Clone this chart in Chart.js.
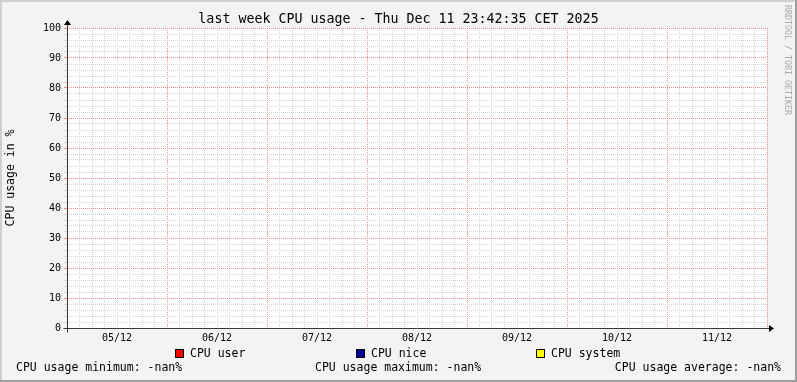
<!DOCTYPE html>
<html>
<head>
<meta charset="utf-8">
<title>last week CPU usage</title>
<script src="https://cdn.jsdelivr.net/npm/chart.js@4.4.1/dist/chart.umd.min.js"></script>
<style>
  html, body { margin: 0; padding: 0; background: #f3f3f3; }
  canvas { display: block; }
</style>
</head>
<body>
<canvas id="chart" width="797" height="382"></canvas>
<script>
// === Datos ===
const dayLabels = ['05/12', '06/12', '07/12', '08/12', '09/12', '10/12', '11/12'];
const hoursInRange = 168;          // una semana, eje x en horas
const cpuUser = [];                // sin datos (-nan)
const cpuNice = [];
const cpuSystem = [];
const seriesNames = ['CPU user', 'CPU nice', 'CPU system'];
const seriesColors = ['#ff0000', '#000099', '#ffff00'];
const statLines = ['CPU usage minimum: -nan%', 'CPU usage maximum: -nan%', 'CPU usage average: -nan%'];

const MONO = "'DejaVu Sans Mono', monospace";
const minorGrid = '#d4d4d4';
const majorGrid = '#ec8c8c';
const axisColor = '#3e3636';

// === Fondo, marco, flechas, leyenda y pie ===
const rrdStyle = {
    id: 'rrdStyle',
    beforeDraw(chart) {
        const {ctx, width, height, chartArea: a} = chart;
        ctx.save();
        ctx.fillStyle = '#f3f3f3';
        ctx.fillRect(0, 0, width, height);
        ctx.fillStyle = '#cfcfcf';
        ctx.fillRect(0, 0, width, 2);
        ctx.fillRect(0, 0, 2, height);
        ctx.fillStyle = '#9e9e9e';
        ctx.fillRect(width - 2, 0, 2, height);
        ctx.fillRect(0, height - 2, width, 2);
        ctx.fillStyle = '#ffffff';
        ctx.fillRect(a.left, a.top, a.right - a.left, a.bottom - a.top);
        ctx.restore();
    },
    afterDraw(chart) {
        const {ctx, scales: {x, y}} = chart;
        const x0 = Math.round(x.getPixelForValue(0)) + 0.5;
        const y0 = Math.round(y.getPixelForValue(0)) + 0.5;
        const xEnd = Math.round(x.getPixelForValue(hoursInRange));
        const yTop = Math.round(y.getPixelForValue(100));
        ctx.save();
        ctx.strokeStyle = axisColor;
        ctx.lineWidth = 1;
        ctx.beginPath();
        ctx.moveTo(x0 - 4, y0);
        ctx.lineTo(xEnd + 3, y0);
        ctx.moveTo(x0, y0 + 4);
        ctx.lineTo(x0, yTop - 3);
        ctx.stroke();
        ctx.fillStyle = '#000';
        ctx.beginPath();
        ctx.moveTo(xEnd + 2, y0 - 3.5);
        ctx.lineTo(xEnd + 7, y0);
        ctx.lineTo(xEnd + 2, y0 + 3.5);
        ctx.closePath();
        ctx.fill();
        ctx.beginPath();
        ctx.moveTo(x0 - 3.5, yTop - 3);
        ctx.lineTo(x0, yTop - 8);
        ctx.lineTo(x0 + 3.5, yTop - 3);
        ctx.closePath();
        ctx.fill();

        // leyenda
        ctx.font = '11.5px ' + MONO;
        ctx.textBaseline = 'middle';
        ctx.textAlign = 'left';
        const boxX = [175, 356, 536];
        chart.data.datasets.forEach((ds, i) => {
            ctx.fillStyle = ds.borderColor;
            ctx.fillRect(boxX[i], 349, 9, 9);
            ctx.strokeStyle = '#000';
            ctx.strokeRect(boxX[i] + 0.5, 349.5, 8, 8);
            ctx.fillStyle = '#000';
            ctx.fillText(ds.label, boxX[i] + 15, 354.5);
        });

        // estadísticas
        ctx.fillText(statLines[0], 16, 368.5);
        ctx.fillText(statLines[1], 315, 368.5);
        ctx.textAlign = 'right';
        ctx.fillText(statLines[2], 781, 368.5);

        // marca de agua
        ctx.translate(787, 5);
        ctx.rotate(Math.PI / 2);
        ctx.textAlign = 'left';
        ctx.textBaseline = 'middle';
        ctx.font = '8.3px ' + MONO;
        ctx.fillStyle = '#aaaaaa';
        ctx.fillText('RRDTOOL / TOBI OETIKER', 0, 0);
        ctx.restore();
    }
};

const chart = new Chart(document.getElementById('chart'), {
    type: 'line',
    data: {
        datasets: [
            { label: seriesNames[0], data: cpuUser, borderColor: seriesColors[0], backgroundColor: seriesColors[0], pointRadius: 0 },
            { label: seriesNames[1], data: cpuNice, borderColor: seriesColors[1], backgroundColor: seriesColors[1], pointRadius: 0 },
            { label: seriesNames[2], data: cpuSystem, borderColor: seriesColors[2], backgroundColor: seriesColors[2], pointRadius: 0 }
        ]
    },
    plugins: [rrdStyle],
    options: {
        responsive: false,
        animation: false,
        devicePixelRatio: 1,
        layout: { padding: { left: 0, right: 0, top: 0, bottom: 34 } },
        plugins: {
            legend: { display: false },
            tooltip: { enabled: false },
            title: {
                display: true,
                text: 'last week CPU usage - Thu Dec 11 23:42:35 CET 2025',
                color: '#000',
                font: { family: MONO, size: 13.3, weight: 'normal' },
                padding: { top: 12, bottom: 0.04 }
            }
        },
        scales: {
            x: {
                type: 'linear',
                min: 0,
                max: hoursInRange,
                afterFit: s => { s.height = 20; },
                border: { display: false, dash: [1, 1] },
                grid: {
                    drawTicks: false,
                    color: c => (c.tick && c.tick.value % 24 === 0) ? majorGrid : minorGrid
                },
                ticks: {
                    stepSize: 3,
                    autoSkip: false,
                    maxRotation: 0,
                    padding: 4,
                    color: '#000',
                    font: { family: MONO, size: 10 },
                    callback: v => (v % 24 === 12) ? dayLabels[(v - 12) / 24] : ''
                }
            },
            y: {
                min: 0,
                max: 100,
                afterFit: s => { s.width = 67; },
                border: { display: false, dash: [1, 1] },
                grid: {
                    tickLength: 3,
                    color: c => (c.tick && c.tick.value % 10 === 0) ? majorGrid : minorGrid
                },
                ticks: {
                    stepSize: 2,
                    autoSkip: false,
                    padding: 3,
                    color: '#000',
                    font: { family: MONO, size: 10 },
                    callback: v => (v % 10 === 0) ? String(v) : ''
                },
                title: {
                    display: true,
                    text: 'CPU usage in %',
                    color: '#000',
                    font: { family: MONO, size: 11.5, weight: 'normal' },
                    padding: { top: 4, bottom: 0 }
                }
            },
            // margen derecho (hueco para la marca de agua)
            yRight: {
                position: 'right',
                min: 0,
                max: 100,
                afterFit: s => { s.width = 30; },
                border: { display: false },
                grid: { display: false },
                ticks: { display: false }
            }
        }
    }
});
</script>
</body>
</html>
